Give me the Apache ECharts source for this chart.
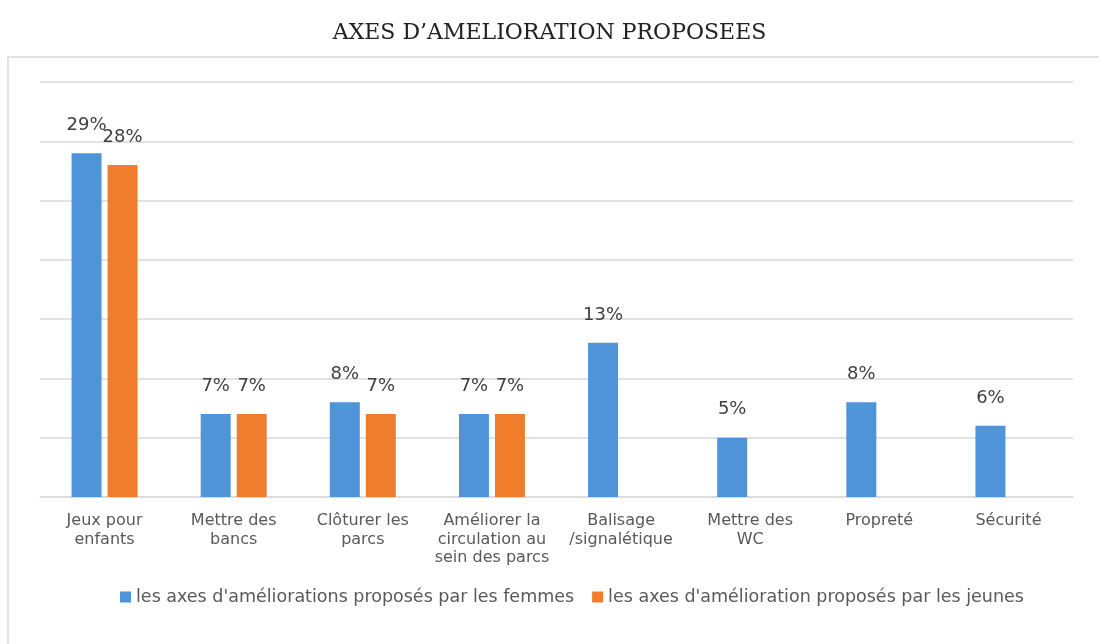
<!DOCTYPE html>
<html>
<head>
<meta charset="utf-8">
<script src="https://cdn.jsdelivr.net/npm/echarts@6/dist/echarts.min.js"></script>
<style>
  html, body { margin: 0; padding: 0; background: #fff; }
  #chart { width: 1099px; height: 644px; }
</style>
</head>
<body>
<div id="chart"></div>
<script>
// catégories (axe x)
const categories = [
  "Jeux pour\nenfants",
  "Mettre des\nbancs",
  "Clôturer les\nparcs",
  "Améliorer la\ncirculation au\nsein des parcs",
  "Balisage\n/signalétique",
  "Mettre des\nWC",
  "Propreté",
  "Sécurité"
];
const seriesNames = [
  "les axes d'améliorations proposés par les femmes",
  "les axes d'amélioration proposés par les jeunes"
];
// valeurs en %
const femmes = [29, 7, 8, 7, 13, 5, 8, 6];
const jeunes = [28, 7, 7, 7, null, null, null, null];

const chart = echarts.init(document.getElementById("chart"));

const labelStyle = {
  show: true,
  position: "top",
  distance: 19,
  formatter: "{c}%",
  fontFamily: "DejaVu Sans, sans-serif",
  fontSize: 18,
  color: "#404040"
};

chart.setOption({
  animation: false,
  color: ["#4f93d8", "#f07d2c"],
  title: {
    text: "AXES D\u2019AMELIORATION PROPOSEES",
    left: "center",
    top: 17,
    textStyle: {
      fontFamily: "DejaVu Serif, serif",
      fontWeight: "normal",
      fontSize: 22,
      color: "#222"
    }
  },
  graphic: [
    {
      type: "rect",
      shape: { x: 8, y: 57, width: 1110, height: 620 },
      style: { fill: "none", stroke: "#d9d9d9", lineWidth: 1.5 },
      silent: true,
      z: -1
    }
  ],
  legend: {
    data: seriesNames,
    bottom: 33,
    left: 115,
    itemWidth: 11,
    itemHeight: 11,
    itemGap: 18,
    icon: "rect",
    textStyle: {
      fontFamily: "DejaVu Sans, sans-serif",
      fontSize: 17.5,
      color: "#595959"
    }
  },
  grid: {
    left: 40,
    right: 26,
    top: 82,
    bottom: 147
  },
  xAxis: {
    type: "category",
    data: categories,
    axisTick: { show: false },
    axisLine: { lineStyle: { color: "#d9d9d9", width: 1.5 } },
    axisLabel: {
      interval: 0,
      margin: 15,
      lineHeight: 18.5,
      fontFamily: "DejaVu Sans, sans-serif",
      fontSize: 16,
      color: "#595959"
    }
  },
  yAxis: {
    type: "value",
    min: 0,
    max: 35,
    interval: 5,
    axisLabel: { show: false },
    axisLine: { show: false },
    axisTick: { show: false },
    splitLine: { lineStyle: { color: "#d9d9d9", width: 1.5 } }
  },
  series: [
    {
      name: seriesNames[0],
      type: "bar",
      data: femmes,
      barWidth: 30,
      barGap: "20%",
      label: labelStyle
    },
    {
      name: seriesNames[1],
      type: "bar",
      data: jeunes,
      barWidth: 30,
      label: labelStyle
    }
  ]
});
</script>
</body>
</html>
